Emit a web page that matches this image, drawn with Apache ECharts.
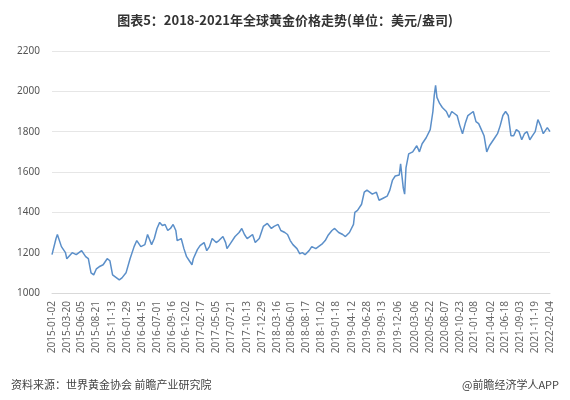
<!DOCTYPE html><html><head><meta charset="utf-8">
<script src="https://cdn.jsdelivr.net/npm/echarts@6/dist/echarts.min.js"></script>
<style>html,body{margin:0;padding:0;background:#fff}#c{width:570px;height:400px}</style></head><body><div id="c"></div>
<script>
const tickLabels=["2015-01-02","2015-03-20","2015-06-05","2015-08-21","2015-11-13","2016-01-29","2016-04-15","2016-07-01","2016-09-16","2016-12-02","2017-02-17","2017-05-05","2017-07-21","2017-10-13","2017-12-29","2018-03-16","2018-06-01","2018-08-17","2018-11-02","2019-01-18","2019-04-12","2019-06-28","2019-09-13","2019-12-06","2020-03-06","2020-05-22","2020-08-07","2020-10-23","2021-01-08","2021-04-02","2021-06-18","2021-09-03","2021-11-19","2022-02-04"];
const weekIdx=[0,3,4,7,10,11,15,18,22,25,27,29,31,33,35,38,41,43,45,48,50,52,
55,58,61,63,66,69,71,74,76,78,80,82,84,86,88,90,92,93,96,98,100,102,104,
105,108,110,113,115,117,119,122,124,127,129,130,133,136,139,141,143,145,147,149,151,154,
157,160,163,165,168,170,173,175,177,179,182,184,186,188,191,193,196,198,201,203,
205,208,210,213,216,218,221,224,225,227,230,232,234,236,238,241,243,246,249,251,
253,255,258,259,261,262,263,265,268,271,273,275,278,281,283,284,285,286,288,290,293,295,297,299,301,303,305,307,309,
313,315,317,319,321,323,325,327,329,331,333,335,337,339,341,343,345,347,349,351,353,355,357,359,361,363,365,366,368,370];
const prices=[1190,1270,1290,1230,1200,1170,1200,1190,1210,1180,1170,1100,1090,1120,1130,1140,1170,1160,1090,1075,1065,1075,
1100,1170,1230,1260,1230,1240,1290,1240,1270,1320,1350,1335,1340,1310,1320,1340,1310,1260,1270,1220,1180,1160,1140,
1170,1215,1235,1250,1210,1230,1270,1250,1260,1280,1250,1220,1250,1280,1300,1320,1290,1270,1280,1290,1250,1270,
1330,1345,1320,1330,1340,1310,1300,1290,1260,1240,1220,1195,1200,1190,1210,1230,1220,1230,1245,1260,
1285,1310,1320,1300,1290,1280,1300,1340,1400,1410,1440,1500,1510,1500,1490,1500,1460,1470,1480,1510,
1560,1580,1585,1640,1520,1490,1620,1690,1700,1730,1700,1740,1770,1810,1900,1980,2030,1970,1940,1920,1900,1870,1900,1890,1880,1830,1790,1840,1880,
1900,1850,1840,1810,1780,1700,1730,1750,1770,1790,1830,1880,1900,1880,1780,1780,1810,1800,1760,1790,1800,1760,1780,1800,1860,1830,1790,1800,1820,1800];
const start=Date.UTC(2015,0,2);
const cats=[];
for(let i=0;i<=370;i++){cats.push(new Date(start+i*7*864e5).toISOString().slice(0,10));}
const data=weekIdx.map((w,i)=>[cats[w],prices[i]]);
const ch=echarts.init(document.getElementById('c'));
ch.setOption({
 animation:false,
 title:[{text:'图表5：2018-2021年全球黄金价格走势(单位：美元/盎司)',left:'center',top:9,textStyle:{fontSize:13,fontWeight:'bold',color:'#333',fontFamily:'Noto Sans CJK SC'}},
  {text:'资料来源：世界黄金协会 前瞻产业研究院',left:6,top:374,textStyle:{fontSize:11,fontWeight:'normal',color:'#444',fontFamily:'Noto Sans CJK SC'}},
  {text:'@前瞻经济学人APP',right:6,top:374,textStyle:{fontSize:11,fontWeight:'normal',color:'#444',fontFamily:'Noto Sans CJK SC'}}],
 grid:{left:52,right:20,top:51,height:242},
 xAxis:{type:'category',data:cats,boundaryGap:false,
  axisLine:{lineStyle:{color:'#d9d9d9'}},axisTick:{show:false},
  axisLabel:{rotate:90,fontSize:10,color:'#666',interval:(i,v)=>tickLabels.includes(v),fontFamily:'Noto Sans'}},
 yAxis:{type:'value',min:1000,max:2200,interval:200,
  axisLine:{show:false},axisTick:{show:false},
  splitLine:{lineStyle:{color:'#e6e6e6'}},
  axisLabel:{fontSize:10,color:'#555',margin:12,fontFamily:'Noto Sans',formatter:v=>String(v)}},
 series:[{type:'line',data:data,showSymbol:false,lineStyle:{color:'#5b8fc9',width:1.5}}]
});
</script></body></html>
